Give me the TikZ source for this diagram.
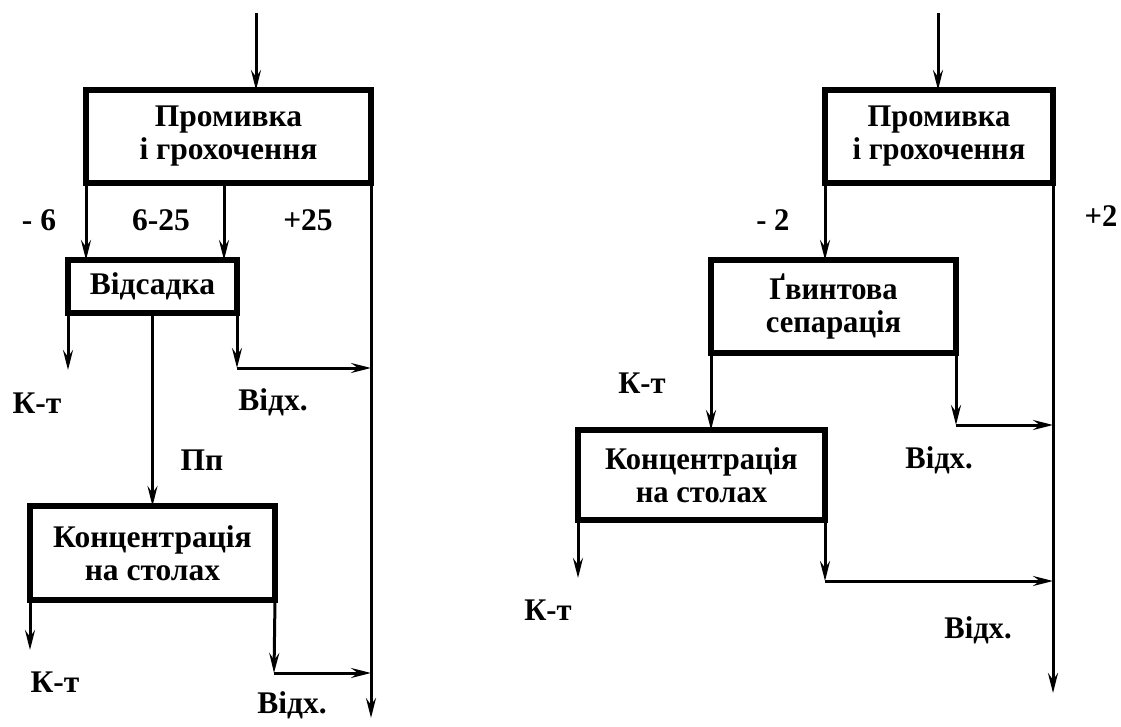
\documentclass[tikz,border=0pt]{standalone}
\usepackage{fontspec}
\setmainfont{Liberation Serif}
\newfontfamily\lf{Liberation Serif}
\newfontfamily\rf{Liberation Serif}[FakeStretch=0.97]
\usetikzlibrary{arrows.meta}
\begin{document}
\begin{tikzpicture}[x=1pt,y=-1pt,
  boxL/.style={draw, line width=6pt, outer sep=0pt, inner sep=0pt, align=center,
    font=\lf\bfseries\fontsize{31.5}{33}\selectfont},
  boxR/.style={draw, line width=6pt, outer sep=0pt, inner sep=0pt, align=center,
    font=\rf\bfseries\fontsize{31.5}{33}\selectfont},
  lblL/.style={inner sep=0pt, font=\lf\bfseries\fontsize{31.5}{33}\selectfont},
  lblR/.style={inner sep=0pt, font=\rf\bfseries\fontsize{31.5}{33}\selectfont},
  arr/.style={line width=3pt, -{Stealth[length=20pt,width=10pt,inset=7pt]}}]
\useasboundingbox (0,0) rectangle (1121,727);
% ---------------- left scheme ----------------
\node[boxL, minimum width=285pt, minimum height=93pt] (B1) at (228.5,136.5) {Промивка\\і грохочення};
\node[boxL, minimum width=169pt, minimum height=53pt] (B2) at (152.5,286.5) {Відсадка};
\node[boxL, minimum width=245pt, minimum height=94pt] (B3) at (152.5,553) {Концентрація\\на столах};
\coordinate (in1) at (256,13);
\coordinate (t12) at (224,183);
\coordinate (k1) at (68,370);
\coordinate (w1) at (237,368);
\coordinate (out1) at (371,718);
\coordinate (k2) at (30,650);
\coordinate (w2) at (274,673);
\draw[arr] (in1) -- (in1 |- B1.north);
\draw[arr] (B1.south west) -- (B1.south west |- B2.north);
\draw[arr] (t12) -- (t12 |- B2.north);
\draw[arr] (B1.south east) -- (out1);
\draw[arr] (B2.south west) -- (k1);
\draw[arr] (B2.south) -- (B2.south |- B3.north);
\draw[arr] (B2.south east) -- (w1);
\draw[arr] (w1) -- (w1 -| B1.south east);
\draw[arr] (B3.south west) -- (k2);
\draw[arr] (B3.south east) -- (w2);
\draw[arr] (w2) -- (w2 -| B1.south east);
\node[lblL] (l1) at (39,220) {- 6};
\node[lblL] (l2) at (161,220) {6-25};
\node[lblL] (l3) at (308,220) {+25};
\node[lblL] (l4) at (37,403) {К-т};
\node[lblL] (l5) at (273,402) {Відх.};
\node[lblL] (l6) at (202,460) {Пп};
\node[lblL] (l7) at (55,682) {К-т};
\node[lblL] (l8) at (292,705) {Відх.};
% ---------------- right scheme ----------------
\node[boxR, minimum width=228pt, minimum height=93pt] (R1) at (939,136.5) {Промивка\\і грохочення};
\node[boxR, minimum width=245pt, minimum height=93pt] (R2) at (833.5,306.5) {Ґвинтова\\сепарація};
\node[boxR, minimum width=247pt, minimum height=90pt] (R3) at (701.5,475) {Концентрація\\на столах};
\coordinate (in2) at (938,13);
\coordinate (out2) at (1053,693);
\coordinate (w3) at (956,425);
\coordinate (k3) at (578,578);
\coordinate (w4) at (825,581);
\draw[arr] (in2) -- (in2 |- R1.north);
\draw[arr] (R1.south west) -- (R1.south west |- R2.north);
\draw[arr] (R1.south east) -- (out2);
\draw[arr] (R2.south west) -- (R2.south west |- R3.north);
\draw[arr] (R2.south east) -- (w3);
\draw[arr] (w3) -- (w3 -| R1.south east);
\draw[arr] (R3.south west) -- (k3);
\draw[arr] (R3.south east) -- (w4);
\draw[arr] (w4) -- (w4 -| R1.south east);
\node[lblR] (r1) at (773,220) {- 2};
\node[lblR] (r2) at (1101,216) {+2};
\node[lblR] (r3) at (642,383) {К-т};
\node[lblR] (r4) at (939,460) {Відх.};
\node[lblR] (r5) at (548,610) {К-т};
\node[lblR] (r6) at (978,630) {Відх.};
\end{tikzpicture}
\end{document}
